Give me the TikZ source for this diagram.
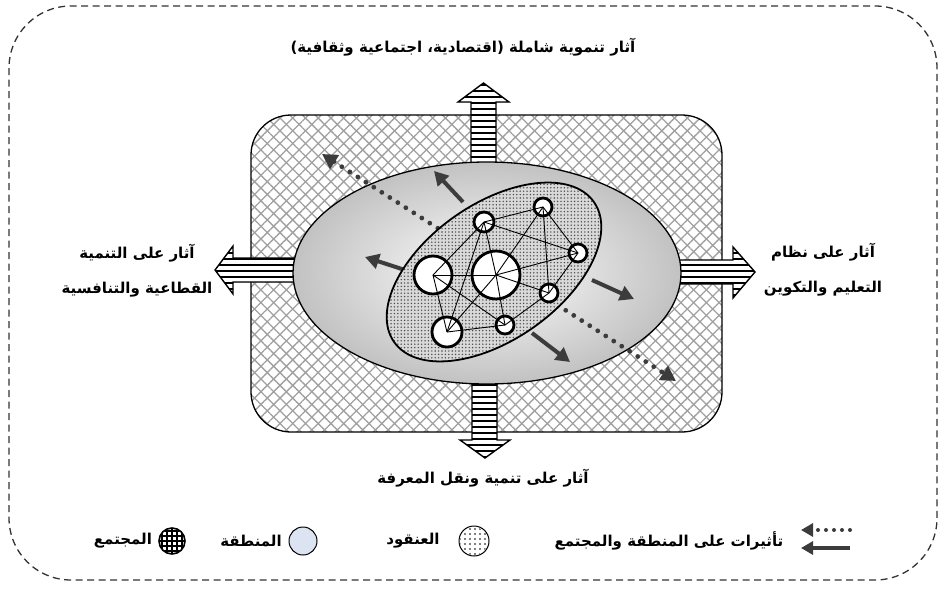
\documentclass[tikz,border=0pt]{standalone}
\usepackage{fontspec}
\newfontfamily\arabicfont[Script=Arabic]{DejaVu Sans}
\TeXXeTstate=1
\usetikzlibrary{patterns.meta,arrows.meta}
\newcommand\artxt[1]{\beginR #1\endR}
\definecolor{arrgray}{HTML}{3C3C3C}
\definecolor{hatchgray}{HTML}{A0A0A0}
\definecolor{legblue}{HTML}{DCE4F2}
\tikzset{
  outerbox/.style={draw=black!80, line width=1.3pt, dash pattern=on 7pt off 4.5pt, rounded corners=62pt},
  hatchA/.style={pattern={Lines[angle=45,distance=9pt,line width=1.3pt]}, pattern color=hatchgray},
  hatchB/.style={pattern={Lines[angle=-45,distance=9pt,line width=1.3pt]}, pattern color=hatchgray},
  stripes/.style={pattern={Lines[angle=0,distance=6pt,line width=2.4pt]}, pattern color=black},
  bigarrow/.style={draw=black, line width=1.4pt, line join=miter},
  solidarr/.style={draw=arrgray, line width=4pt, -{Triangle[length=14pt,width=15pt]}},
  dotarr/.style={draw=arrgray, line width=4.8pt, line cap=round, dash pattern=on 0pt off 9.5pt,
     {Triangle[length=15pt,width=16pt]}-{Triangle[length=15pt,width=16pt]}},
  legdot/.style={draw=arrgray, line width=4pt, line cap=round, dash pattern=on 0pt off 8pt, -{Triangle[length=12pt,width=13pt]}},
  legsolid/.style={draw=arrgray, line width=4pt, -{Triangle[length=12pt,width=13pt]}},
  netnode/.style={circle, fill=white, inner sep=0pt},
  netring/.style={draw=black, line width=2.8pt},
  netedge/.style={draw=black, line width=0.9pt},
  lbl/.style={font=\arabicfont\bfseries\fontsize{15}{35}\selectfont, align=center, inner sep=1pt},
}
\begin{document}
\begin{tikzpicture}[x=1pt,y=-1pt]
\useasboundingbox (0,0) rectangle (945,589);
% outer dashed frame
\draw[outerbox] (9,6) rectangle (937,580);
% hatched society box
\fill[white, rounded corners=40pt] (251,115) rectangle (722,432);
\fill[hatchA, rounded corners=40pt] (251,115) rectangle (722,432);
\fill[hatchB, rounded corners=40pt] (251,115) rectangle (722,432);
\draw[black, line width=1.3pt, rounded corners=40pt] (251,115) rectangle (722,432);
% striped big arrows
\foreach \shp in {
  {(471,170) -- (471,102) -- (458,102) -- (483.5,83) -- (509,102) -- (496,102) -- (496,170) -- cycle},
  {(472,378) -- (472,440) -- (460,440) -- (485,458) -- (510,440) -- (497,440) -- (497,378) -- cycle},
  {(302,258) -- (233,258) -- (233,246) -- (215,270) -- (233,294) -- (233,282) -- (302,282) -- cycle},
  {(672,260) -- (733,260) -- (733,247) -- (755,272) -- (733,298) -- (733,284) -- (672,284) -- cycle}}
{
  \fill[white] \shp;
  \fill[stripes] \shp;
  \draw[bigarrow] \shp;
}
% region ellipse
\shade[inner color=white, outer color=black!24]
  (487,273) ellipse [x radius=194, y radius=111];
\draw[black, line width=1.3pt] (487,273) ellipse [x radius=194, y radius=111];
% dotted diagonal arrow
\coordinate (dA) at (322,154);
\coordinate (dB) at (676,381);
\draw[dotarr] (dA) -- (dB);
% solid arrows
\coordinate (s1a) at (463,202); \coordinate (s1b) at (434,171);
\coordinate (s2a) at (408,271); \coordinate (s2b) at (365,257);
\coordinate (s3a) at (592,280); \coordinate (s3b) at (634,299);
\coordinate (s4a) at (532,333); \coordinate (s4b) at (570,362);
\draw[solidarr] (s1a) -- (s1b);
\draw[solidarr] (s2a) -- (s2b);
\draw[solidarr] (s3a) -- (s3b);
\draw[solidarr] (s4a) -- (s4b);
% cluster ellipse
\fill[black!15, rotate around={35:(494,272)}] (494,272) ellipse [x radius=122, y radius=68];
\fill[pattern={Dots[radius=0.8pt,distance=3.4pt]}, pattern color=black!70, rotate around={35:(494,272)}]
  (494,272) ellipse [x radius=122, y radius=68];
\draw[black, line width=1.8pt, rotate around={35:(494,272)}] (494,272) ellipse [x radius=122, y radius=68];
% network
\node[netnode, minimum size=50pt] (big) at (496,275) {};
\node[netnode, minimum size=40pt] (L) at (433,275) {};
\node[netnode, minimum size=32pt] (BL) at (447,332) {};
\node[netnode, minimum size=22pt] (T) at (484,222) {};
\node[netnode, minimum size=20pt] (TR) at (543,207) {};
\node[netnode, minimum size=20pt] (R) at (578,253) {};
\node[netnode, minimum size=20pt] (RL) at (549,293) {};
\node[netnode, minimum size=20pt] (BM) at (505,325) {};
\foreach \a/\b in {L/big, L/T, L/BL, L/BM, big/T, big/TR, big/R, big/RL, big/BL, big/BM,
                   T/TR, T/R, TR/R, TR/RL, R/RL, RL/BM, BM/BL, T/BL}
  \draw[netedge] (\a.center) -- (\b.center);
\draw[netring] (big.center) circle[radius=24];
\draw[netring] (L.center) circle[radius=19];
\draw[netring] (BL.center) circle[radius=15];
\draw[netring] (T.center) circle[radius=10];
\draw[netring] (TR.center) circle[radius=9];
\draw[netring] (R.center) circle[radius=9];
\draw[netring] (RL.center) circle[radius=9];
\draw[netring] (BM.center) circle[radius=9];
% labels
\node[lbl] (top) at (463,47) {\artxt{آثار تنموية شاملة (اقتصادية، اجتماعية وثقافية)}};
\node[lbl] (left) at (137,271) {\artxt{آثار على التنمية}\\\artxt{القطاعية والتنافسية}};
\node[lbl] (right) at (823,270) {\artxt{آثار على نظام}\\\artxt{التعليم والتكوين}};
\node[lbl] (bottom) at (483,478) {\artxt{آثار على تنمية ونقل المعرفة}};
% legend
\coordinate (l1a) at (850,530); \coordinate (l1b) at (801,530);
\coordinate (l2a) at (850,548); \coordinate (l2b) at (801,548);
\draw[legdot] (l1a) -- (l1b);
\draw[legsolid] (l2a) -- (l2b);
\node[lbl] (legA) at (669,541) {\artxt{تأثيرات على المنطقة والمجتمع}};
\node[circle, minimum size=30pt, fill=white, draw=black, line width=1pt] (icC) at (474,541) {};
\fill[pattern={Dots[radius=0.9pt,distance=5pt]}, pattern color=black] (icC.center) circle[radius=14];
\node[lbl] (legC) at (413,541) {\artxt{العنقود}};
\node[circle, minimum size=28pt, fill=legblue, draw=black, line width=1pt] (icR) at (303,541) {};
\node[lbl] (legR) at (251,541) {\artxt{المنطقة}};
\node[circle, minimum size=26pt, fill=white, draw=black, line width=1.6pt] (icS) at (172,541) {};
\begin{scope}
  \clip (icS.center) circle[radius=12.5];
  \foreach \d in {-10,-5,0,5,10} {
    \draw[black, line width=1.3pt] ([xshift=\d pt]icS.north) -- ([xshift=\d pt]icS.south);
    \draw[black, line width=1.3pt] ([yshift=\d pt]icS.west) -- ([yshift=\d pt]icS.east);
  }
\end{scope}
\node[lbl] (legS) at (123,541) {\artxt{المجتمع}};
\end{tikzpicture}
\end{document}
